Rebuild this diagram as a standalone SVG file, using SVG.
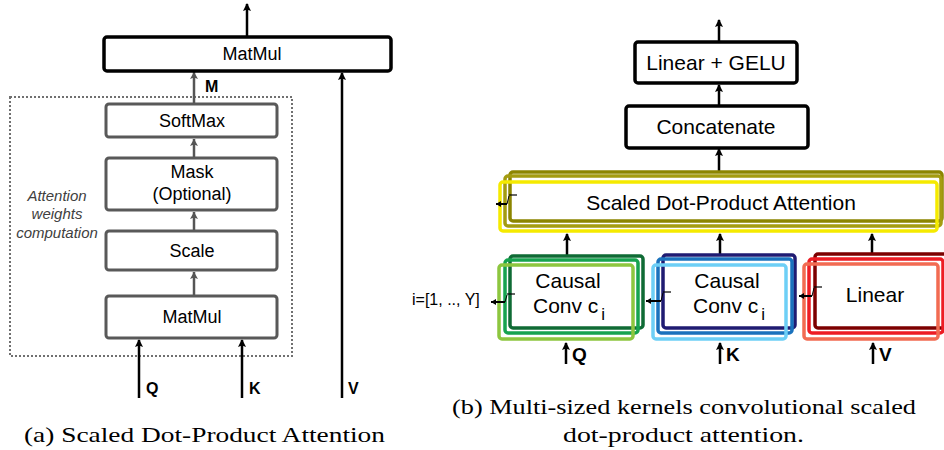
<svg xmlns="http://www.w3.org/2000/svg" width="944" height="450" viewBox="0 0 944 450">
<defs>
<marker id="ah" markerUnits="userSpaceOnUse" markerWidth="9" markerHeight="9" refX="7" refY="4" orient="auto">
<path d="M0,0 L8,4 L0,8 L1.5,4 z" fill="#000"/>
</marker>
<marker id="ahg" markerUnits="userSpaceOnUse" markerWidth="9" markerHeight="9" refX="7" refY="4" orient="auto">
<path d="M0,0 L7,4 L0,8 L1.5,4 z" fill="#555"/>
</marker>
<marker id="ahs" markerUnits="userSpaceOnUse" markerWidth="6" markerHeight="6" refX="5" refY="3" orient="auto">
<path d="M0,0 L5,3 L0,6 z" fill="#000"/>
</marker>
</defs>
<style>
text{font-family:"Liberation Sans",Arial,sans-serif;fill:#000}
.t18{font-size:18px;text-anchor:middle}
.t21{font-size:21px;text-anchor:middle}
.b{font-weight:bold}
.gbox{fill:#fff;stroke:#595959;stroke-width:3}
.kbox{fill:#fff;stroke:#000;stroke-width:3.5}
.ln{stroke:#000;stroke-width:2.5;fill:none}
.lng{stroke:#555;stroke-width:2.5;fill:none}
.st{fill:none;stroke-width:3.5}
.hook{stroke:#000;fill:none}
.cap{font-family:"Liberation Serif","Times New Roman",serif;font-size:21px}
.it{font-style:italic;font-size:15px;fill:#404040;text-anchor:middle}
</style>

<!-- ========== (a) ========== -->
<g id="dotted-group">
<rect x="10" y="97" width="282" height="259" fill="none" stroke="#707070" stroke-width="2" stroke-dasharray="2,2"/>
<text class="it" x="57" y="201">Attention</text>
<text class="it" x="57" y="219">weights</text>
<text class="it" x="57" y="238">computation</text>
</g>

<g id="connectors-a">
<line class="ln" x1="247" y1="36" x2="247" y2="4" marker-end="url(#ah)"/>
<line class="lng" x1="194" y1="103" x2="194" y2="72" marker-end="url(#ahg)"/>
<line class="ln" x1="342" y1="398" x2="342" y2="73" marker-end="url(#ah)"/>
<line class="lng" x1="194" y1="158" x2="194" y2="139" marker-end="url(#ahg)"/>
<line class="lng" x1="194" y1="231" x2="194" y2="212" marker-end="url(#ahg)"/>
<line class="lng" x1="194" y1="295" x2="194" y2="272" marker-end="url(#ahg)"/>
<line class="ln" x1="139" y1="398" x2="139" y2="340" marker-end="url(#ah)"/>
<line class="ln" x1="242" y1="398" x2="242" y2="340" marker-end="url(#ah)"/>
<text class="b" x="205" y="92" font-size="16">M</text>
<text class="b" x="146" y="394" font-size="16">Q</text>
<text class="b" x="249" y="394" font-size="16">K</text>
<text class="b" x="348" y="394" font-size="16">V</text>
</g>

<g id="matmul-top">
<rect class="kbox" x="104" y="37" width="287" height="34" rx="3"/>
<text class="t18" x="252" y="60">MatMul</text>
</g>
<g id="softmax">
<rect class="gbox" x="106" y="104" width="171" height="33" rx="3"/>
<text class="t18" x="192" y="127">SoftMax</text>
</g>
<g id="mask">
<rect class="gbox" x="106" y="158" width="171" height="52" rx="3"/>
<text class="t18" x="192" y="178">Mask</text>
<text class="t18" x="192" y="200">(Optional)</text>
</g>
<g id="scale">
<rect class="gbox" x="106" y="231" width="171" height="39" rx="3"/>
<text class="t18" x="192" y="257">Scale</text>
</g>
<g id="matmul-bottom">
<rect class="gbox" x="106" y="296" width="171" height="42" rx="3"/>
<text class="t18" x="192" y="323">MatMul</text>
</g>

<text class="cap" x="24" y="442" textLength="361" lengthAdjust="spacingAndGlyphs">(a) Scaled Dot-Product Attention</text>

<!-- ========== (b) ========== -->
<g id="connectors-b">
<line class="ln" x1="719" y1="42" x2="719" y2="20" marker-end="url(#ah)"/>
<line class="ln" x1="719" y1="106" x2="719" y2="85" marker-end="url(#ah)"/>
<line class="ln" x1="719" y1="172" x2="719" y2="149" marker-end="url(#ah)"/>
<line class="ln" x1="567" y1="256" x2="567" y2="234" marker-end="url(#ah)"/>
<line class="ln" x1="720" y1="255" x2="720" y2="234" marker-end="url(#ah)"/>
<line class="ln" x1="872" y1="254" x2="872" y2="234" marker-end="url(#ah)"/>
<line class="ln" x1="566" y1="364" x2="566" y2="343" marker-end="url(#ah)"/>
<line class="ln" x1="720" y1="364" x2="720" y2="343" marker-end="url(#ah)"/>
<line class="ln" x1="873" y1="364" x2="873" y2="343" marker-end="url(#ah)"/>
<text class="b" x="572" y="361" font-size="19">Q</text>
<text class="b" x="726" y="361" font-size="19">K</text>
<text class="b" x="879" y="361" font-size="19">V</text>
</g>

<g id="linear-gelu">
<rect class="kbox" x="635" y="42" width="162" height="41" rx="3"/>
<text class="t21" x="716" y="70">Linear + GELU</text>
</g>
<g id="concatenate">
<rect class="kbox" x="626" y="106" width="182" height="42" rx="3"/>
<text class="t21" x="716" y="134">Concatenate</text>
</g>

<g id="sdpa">
<rect class="st" x="510" y="172" width="432" height="49" rx="3" stroke="#8c8500"/>
<rect class="st" x="505" y="176" width="436" height="50" rx="3" stroke="#a49c10"/>
<rect class="st" x="500" y="182" width="437" height="49" rx="3" stroke="#f5ea00"/>
<text class="t21" x="721" y="210">Scaled Dot-Product Attention</text>
<path class="hook" stroke-width="1.2" d="M517 195 H509"/>
<path class="hook" stroke-width="2" d="M507 204 H496" marker-end="url(#ahs)"/>
<path class="hook" stroke-width="1" d="M507 204 L509 196"/>
</g>

<g id="causal-conv-q">
<rect class="st" x="510" y="256" width="133" height="72" rx="3" stroke="#0f6b35"/>
<rect class="st" x="505" y="260" width="133" height="73" rx="3" stroke="#16a34f"/>
<rect class="st" x="499" y="265" width="134" height="74" rx="3" stroke="#8dc63f"/>
<text class="t21" x="568" y="288">Causal</text>
<text x="533" y="313" font-size="21">Conv c<tspan font-size="17" dx="3" dy="7">i</tspan></text>
<text x="412" y="305" font-size="16">i=[1, .., Y]</text>
<path class="hook" stroke-width="1.2" d="M515 294 H507"/>
<path class="hook" stroke-width="2" d="M505 302 H491" marker-end="url(#ahs)"/>
<path class="hook" stroke-width="1" d="M505 302 L507 295"/>
</g>

<g id="causal-conv-k">
<rect class="st" x="663" y="255" width="132" height="73" rx="3" stroke="#1f1b72"/>
<rect class="st" x="658" y="259" width="134" height="74" rx="3" stroke="#1a72bd"/>
<rect class="st" x="653" y="265" width="133" height="74" rx="3" stroke="#6dcff6"/>
<text class="t21" x="727" y="288">Causal</text>
<text x="693" y="313" font-size="21">Conv c<tspan font-size="17" dx="3" dy="7">i</tspan></text>
<path class="hook" stroke-width="1.2" d="M671 292 H663"/>
<path class="hook" stroke-width="2" d="M661 301 H646" marker-end="url(#ahs)"/>
<path class="hook" stroke-width="1" d="M661 301 L663 293"/>
</g>

<g id="linear-v">
<rect class="st" x="815" y="254" width="140" height="74" rx="3" stroke="#7d0000"/>
<rect class="st" x="809" y="259" width="134" height="74" rx="3" stroke="#ed1c24"/>
<rect class="st" x="804" y="264" width="134" height="75" rx="3" stroke="#f26b52"/>
<text class="t21" x="875" y="302">Linear</text>
<path class="hook" stroke-width="1.2" d="M822 287 H814"/>
<path class="hook" stroke-width="2" d="M812 296 H799" marker-end="url(#ahs)"/>
<path class="hook" stroke-width="1" d="M812 296 L814 288"/>
</g>

<text class="cap" x="452" y="414" textLength="464" lengthAdjust="spacingAndGlyphs">(b) Multi-sized kernels convolutional scaled</text>
<text class="cap" x="563" y="442" textLength="241" lengthAdjust="spacingAndGlyphs">dot-product attention.</text>
</svg>
